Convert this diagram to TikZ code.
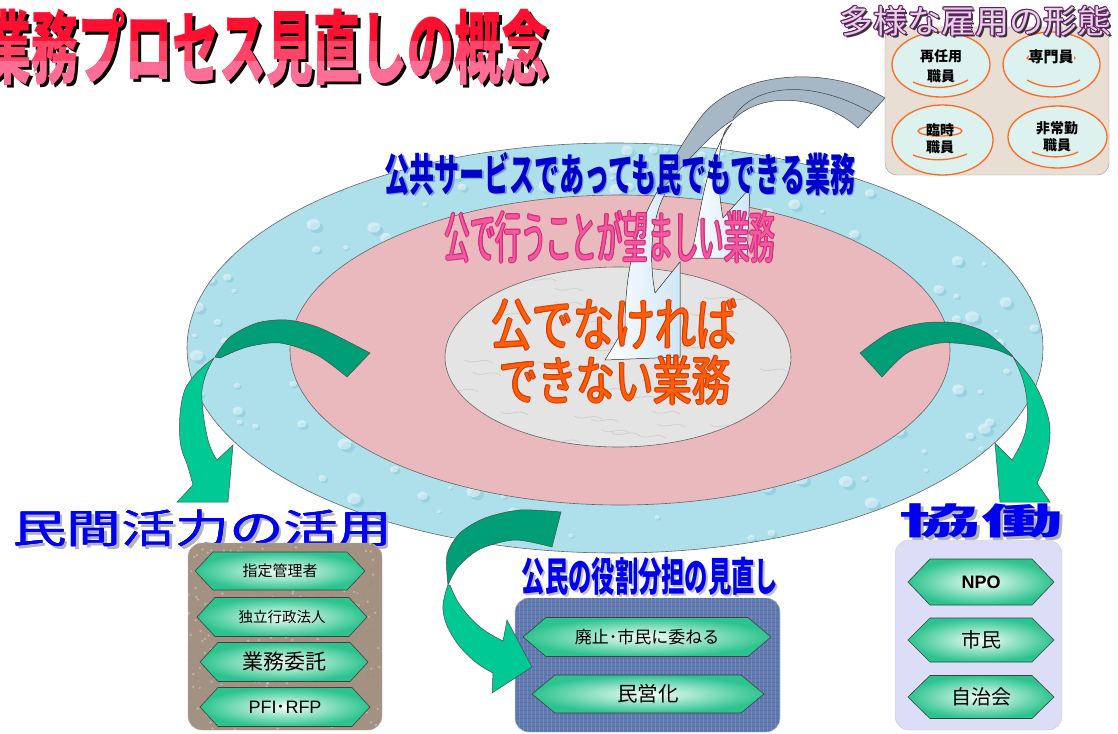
\documentclass[tikz,border=0pt]{standalone}
\usepackage{fontspec}
\setmainfont{Liberation Sans}
\newfontfamily\jp{Noto Sans CJK JP}
\newfontfamily\arial{Liberation Sans}
\usetikzlibrary{shadings}
\definecolor{ringblue}{HTML}{AEE0EB}
\definecolor{dropdark}{HTML}{7FC3D6}
\definecolor{ringpink}{HTML}{E9B9BE}
\definecolor{ringgray}{HTML}{E4E4E4}
\definecolor{dgreen}{HTML}{009E76}
\definecolor{lgreen}{HTML}{00C994}
\definecolor{hexG}{HTML}{2CC38F}
\definecolor{hexL}{HTML}{F2FFF9}
\definecolor{boxbrown}{HTML}{A39282}
\definecolor{boxdenim}{HTML}{6079B0}
\definecolor{boxlav}{HTML}{DCDDF6}
\definecolor{beige}{HTML}{E8DED4}
\definecolor{mint}{HTML}{DDF1EE}
\definecolor{orng}{HTML}{FF6A20}
\definecolor{grayband}{HTML}{A6B8C6}
\definecolor{wblue}{HTML}{CFE6F7}
\definecolor{tblue}{HTML}{0000CC}
\definecolor{tblueS}{HTML}{7C98D8}
\definecolor{tpink}{HTML}{F4589E}
\definecolor{tpinkO}{HTML}{D42A7C}
\definecolor{torange}{HTML}{FF5E0A}
\definecolor{torangeO}{HTML}{D83A00}
\definecolor{tred}{HTML}{FF1030}
\definecolor{tpinkT}{HTML}{FF4468}
\definecolor{tpinkL}{HTML}{FF6E96}
\definecolor{purpO}{HTML}{6A1A6A}
\definecolor{purpF}{HTML}{E2D4E2}
\definecolor{bluebig}{HTML}{0000F0}
\newcommand{\hexbox}[8]{%
  \path[hexfill] (#2-#4,#3) -- (#2-#4+#6,#3-#5) -- (#2+#4-#6,#3-#5) -- (#2+#4,#3) -- (#2+#4-#6,#3+#5) -- (#2-#4+#6,#3+#5) -- cycle;
  \node[inner sep=0pt,font=#7] (#1) at (#2,#3) {#8};}
\newcommand{\otext}[7]{%
  \foreach \dx/\dy in {-1/0,1/0,0/-1,0/1,-.7/-.7,.7/.7,-.7/.7,.7/-.7}
    {\node[inner sep=0pt,font=#4,text=#5] at (#2+\dx,#3+\dy) {#7};}
  \node[inner sep=0pt,font=#4,text=#6] (#1) at (#2,#3) {#7};}
\begin{document}
\begin{tikzpicture}[x=1pt,y=-1pt,
  ring/.style={draw=black!60,line width=0.6pt},
  arrowdark/.style={fill=dgreen,draw=black!70,line width=0.5pt},
  arrowlight/.style={fill=lgreen,draw=black!70,line width=0.5pt},
  whitearrow/.style={left color=white,right color=wblue,draw=black!75,line width=0.5pt},
  hexfill/.style={draw=black!75,line width=0.6pt,inner color=hexL,outer color=hexG},
  emp/.style={draw=orng,line width=1.3pt,fill=mint},
  orngline/.style={draw=orng,line width=1.3pt},
  lbl/.style={inner sep=0pt}]
\useasboundingbox (0,0) rectangle (1118,733);
% ---- rings ----
\path[fill=ringblue] (615,348) ellipse [x radius=428, y radius=205];
\begin{scope}
\clip (615,348) ellipse [x radius=428, y radius=205];
\pgfmathsetseed{11}
\foreach \i in {1,...,260} {
  \pgfmathsetmacro\px{185+rnd*860}
  \pgfmathsetmacro\py{140+rnd*420}
  \pgfmathsetmacro\rr{2+rnd*5}
  \fill[dropdark,opacity=0.45] (\px+0.5*\rr,\py+0.5*\rr) ellipse [x radius=\rr, y radius=0.8*\rr];
  \fill[white,opacity=0.45] (\px,\py) ellipse [x radius=\rr, y radius=0.8*\rr];
}
\end{scope}
\path[ring] (615,348) ellipse [x radius=428, y radius=205];
\path[ring,fill=ringpink] (620,350) ellipse [x radius=330, y radius=155];
\path[ring,fill=ringgray] (618,357) ellipse [x radius=173, y radius=90];
\begin{scope}
\clip (618,357) ellipse [x radius=173, y radius=90];
\pgfmathsetseed{5}
\foreach \i in {1,...,40} {
  \pgfmathsetmacro\px{445+rnd*346}
  \pgfmathsetmacro\py{267+rnd*180}
  \draw[black!25,line width=0.7pt,opacity=0.6] (\px,\py) .. controls (\px+10,\py+6) and (\px+18,\py-4) .. (\px+28,\py+3);
}
\end{scope}
% ---- gray band and white arrows ----
\filldraw[fill=grayband,draw=black!75,line width=0.5pt] (885,98) .. controls (830,66) and (745,70) .. (705,112) .. controls (688,132) and (670,165) .. (657,190) -- (663,188) .. controls (690,158) and (715,130) .. (733,120) .. controls (765,88) and (825,98) .. (858,128) -- cycle;
\draw[black!75,line width=0.5pt] (872,113) .. controls (815,80) and (755,82) .. (733,118);
\filldraw[whitearrow] (732,123) .. controls (702,162) and (700,228) .. (690,258) -- (747,258) -- (750,188) -- (723,218) .. controls (716,180) and (718,140) .. (727,128) -- cycle;
\filldraw[whitearrow] (660,187) .. controls (640,220) and (625,260) .. (625,327) -- (605,360) -- (680,357) -- (680,262) -- (655,293) .. controls (648,255) and (652,215) .. (667,190) -- cycle;
% ---- ring texts ----
\node[lbl,font=\jp\bfseries\fontsize{25}{25}\selectfont,text=tblueS] at (621.5,175.5) {\scalebox{1}[1.8]{公共サービスであっても民でもできる業務}};
\node[lbl,font=\jp\bfseries\fontsize{25}{25}\selectfont,text=tblue] (outer) at (620,174) {\scalebox{1}[1.8]{公共サービスであっても民でもできる業務}};
\otext{middle}{610}{237}{\jp\fontsize{25.4}{25}\selectfont}{tpinkO}{tpink}{\scalebox{1}[2.2]{公で行うことが望ましい業務}}
\otext{inner1}{614}{325}{\jp\fontsize{41}{41}\selectfont}{torangeO}{torange}{\scalebox{1}[1.38]{公でなければ}}
\otext{inner2}{615}{380}{\jp\fontsize{38.5}{38}\selectfont}{torangeO}{torange}{\scalebox{1}[1.37]{できない業務}}
% ---- green arrows (left / right) ----
\filldraw[arrowlight] plot[smooth,tension=0.7] coordinates {(214,358) (193,377) (182,400) (180,440) (188,467) (193,485)} -- (177,502) -- (228,502) -- (233,445) -- (217,460) -- plot[smooth,tension=0.7] coordinates {(217,460) (208,440) (202,400) (205,377) (214,358)} -- cycle;
\filldraw[arrowdark] plot[smooth] coordinates {(215,357) (230,337) (257,323) (287,320) (320,328) (370,353)} -- (347,377) -- plot[smooth] coordinates {(347,377) (317,355) (280,343) (247,347) (220,358)} -- cycle;
\filldraw[arrowlight] plot[smooth,tension=0.7] coordinates {(1013,357) (1032,380) (1045,407) (1050,433) (1045,463) (1037,483)} -- (1050,502) -- (1000,502) -- (995,443) -- (1012,460) -- plot[smooth,tension=0.7] coordinates {(1012,460) (1025,433) (1027,403) (1022,377) (1013,357)} -- cycle;
\filldraw[arrowdark] plot[smooth] coordinates {(860,353) (890,332) (923,323) (957,323) (987,333) (1012,355)} -- (1013,357) -- plot[smooth] coordinates {(1013,357) (997,350) (973,345) (940,343) (907,353) (882,377)} -- cycle;
% ---- headings ----
\node[lbl,font=\jp\fontsize{40}{40}\selectfont,text=black!30] at (205,531) {\scalebox{1.35}[1]{民間活力の活用}};
\node[lbl,font=\jp\fontsize{40}{40}\selectfont,text=bluebig] at (203,528) {\scalebox{1.35}[1]{民間活力の活用}};
\node[lbl,font=\jp\fontsize{40}{40}\selectfont,text=bluebig] at (202,528.7) {\scalebox{1.35}[1]{民間活力の活用}};
\node[lbl,font=\jp\fontsize{40}{40}\selectfont,text=bluebig] (minkan) at (202,528) {\scalebox{1.35}[1]{民間活力の活用}};
\node[lbl,font=\jp\bfseries\fontsize{36}{36}\selectfont,text=black!30] at (984,524) {\scalebox{2.26}[1]{協働}};
\node[lbl,font=\jp\bfseries\fontsize{36}{36}\selectfont,text=bluebig] (kyodo) at (981,521) {\scalebox{2.26}[1]{協働}};
\node[lbl,font=\jp\bfseries\fontsize{23.3}{23}\selectfont,text=black!25] at (652,578) {\scalebox{1}[1.72]{公民の役割分担の見直し}};
\node[lbl,font=\jp\bfseries\fontsize{23.3}{23}\selectfont,text=bluebig] (komin) at (650,576) {\scalebox{1}[1.72]{公民の役割分担の見直し}};
% ---- boxes ----
\path[draw=black!30,fill=boxbrown,rounded corners=14pt] (188,543) rectangle (382,730);
\begin{scope}
\clip[rounded corners=14pt] (188,543) rectangle (382,730);
\pgfmathsetseed{3}
\foreach \i in {1,...,450} {
  \pgfmathsetmacro\px{188+rnd*194}
  \pgfmathsetmacro\py{543+rnd*187}
  \pgfmathsetmacro\sh{rnd}
  \ifdim\sh pt<0.5pt \def\gc{black!45}\else\def\gc{white!70!boxbrown}\fi
  \fill[\gc,opacity=0.45] (\px,\py) circle [radius=1.3];
}
\end{scope}
\path[draw=black!30,fill=boxdenim,rounded corners=14pt] (515,598) rectangle (780,732);
\begin{scope}
\clip[rounded corners=14pt] (515,598) rectangle (780,732);
\foreach \k in {0,4,...,270} {\draw[white,opacity=0.15,line width=0.6pt] (515+\k,598) -- (515+\k,733);}
\foreach \k in {0,4,...,135} {\draw[boxdenim!60!black,opacity=0.15,line width=0.6pt] (515,598+\k) -- (780,598+\k);}
\end{scope}
\path[draw=black!20,fill=boxlav,rounded corners=14pt] (895,540) rectangle (1062,730);
\hexbox{h1}{280}{571}{85}{19}{18}{\jp\fontsize{15}{15}\selectfont}{指定管理者}
\hexbox{h2}{282}{617}{85}{19.5}{18}{\jp\fontsize{14.5}{15}\selectfont}{独立行政法人}
\hexbox{h3}{284}{662}{84}{19.5}{18}{\jp\fontsize{21}{21}\selectfont}{業務委託}
\hexbox{h4}{285}{707}{85}{19.5}{18}{\arial\fontsize{18}{18}\selectfont}{PFI{\jp ･}RFP}
\hexbox{m1}{647}{637}{124}{19.5}{23}{\jp\fontsize{17}{17}\selectfont}{廃止･市民に委ねる}
\hexbox{m2}{648}{694}{116}{19}{23}{\jp\fontsize{20.5}{20}\selectfont}{民営化}
\hexbox{r1}{981}{582}{73}{23}{22}{\arial\bfseries\fontsize{18}{18}\selectfont}{NPO}
\hexbox{r2}{981}{640}{73}{22}{22}{\jp\fontsize{20}{20}\selectfont}{市民}
\hexbox{r3}{981}{697}{73}{21.5}{22}{\jp\fontsize{20}{20}\selectfont}{自治会}
% ---- middle green arrow ----
\filldraw[arrowlight] plot[smooth,tension=0.7] coordinates {(448,585) (443,610) (453,637) (473,660) (493,673)} -- (492,693) -- (532,667) -- (507,620) -- (503,641) -- plot[smooth,tension=0.7] coordinates {(503,641) (480,627) (460,605) (450,585)} -- cycle;
\filldraw[arrowdark] plot[smooth] coordinates {(561,512) (520,510) (485,518) (460,533) (447,555) (448,585)} -- plot[smooth] coordinates {(448,585) (458,567) (480,549) (515,540) (552,547)} -- cycle;
% ---- employment box ----
\path[draw=black!40,fill=beige,rounded corners=12pt] (885,27) rectangle (1109,175);
\path[emp] (941,64.5) ellipse [x radius=49, y radius=32.5];
\path[emp] (1051.5,64.5) ellipse [x radius=48.5, y radius=32.5];
\path[emp] (942.5,140) ellipse [x radius=50.5, y radius=35];
\path[emp] (1057.5,137) ellipse [x radius=49.5, y radius=31];
\path[orngline] (940,131) ellipse [x radius=22, y radius=5];
\path[orngline] (1051,58) ellipse [x radius=24, y radius=5];
\draw[orngline] (913,82) .. controls (930,90) and (952,89) .. (968,80);
\draw[orngline] (1027,80) .. controls (1045,90) and (1065,88) .. (1080,80);
\draw[orngline] (913,155) .. controls (930,162) and (950,161) .. (967,154);
\draw[orngline] (1032,152) .. controls (1048,159) and (1066,158) .. (1078,152);
\node[lbl,font=\jp\bfseries\fontsize{14}{14}\selectfont] (e1a) at (941,56) {再任用};
\node[lbl,font=\jp\bfseries\fontsize{14}{14}\selectfont] (e1b) at (941,76) {職員};
\node[lbl,font=\jp\bfseries\fontsize{15}{15}\selectfont,fill=mint] (e2) at (1051,57) {専門員};
\node[lbl,font=\jp\bfseries\fontsize{14}{14}\selectfont] (e3a) at (940,130) {臨時};
\node[lbl,font=\jp\bfseries\fontsize{14}{14}\selectfont] (e3b) at (940,147) {職員};
\node[lbl,font=\jp\bfseries\fontsize{14}{14}\selectfont] (e4a) at (1057,128) {非常勤};
\node[lbl,font=\jp\bfseries\fontsize{14}{14}\selectfont] (e4b) at (1057,145) {職員};
\node[lbl,font=\jp\fontsize{34}{34}\selectfont,text=black!80] at (977.5,23.5) {\scalebox{1}[0.95]{多様な雇用の形態}};
\otext{koyo}{975}{21}{\jp\fontsize{34}{34}\selectfont}{purpO}{purpF}{\scalebox{1}[0.95]{多様な雇用の形態}}
% ---- title ----
\node[lbl,font=\jp\bfseries\fontsize{47}{47}\selectfont,text=black] at (269.5,49.5) {\scalebox{1}[1.7]{業務プロセス見直しの概念}};
\node[lbl,font=\jp\bfseries\fontsize{47}{47}\selectfont,text=tred] (title) at (266,47) {\scalebox{1}[1.7]{業務プロセス見直しの概念}};
\begin{scope}
\clip (-20,42) rectangle (600,120);
\node[lbl,font=\jp\bfseries\fontsize{47}{47}\selectfont,text=tpinkT] at (266,47) {\scalebox{1}[1.7]{業務プロセス見直しの概念}};
\end{scope}
\begin{scope}
\clip (-20,62) rectangle (600,120);
\node[lbl,font=\jp\bfseries\fontsize{47}{47}\selectfont,text=tpinkL] at (266,47) {\scalebox{1}[1.7]{業務プロセス見直しの概念}};
\end{scope}
\end{tikzpicture}
\end{document}
